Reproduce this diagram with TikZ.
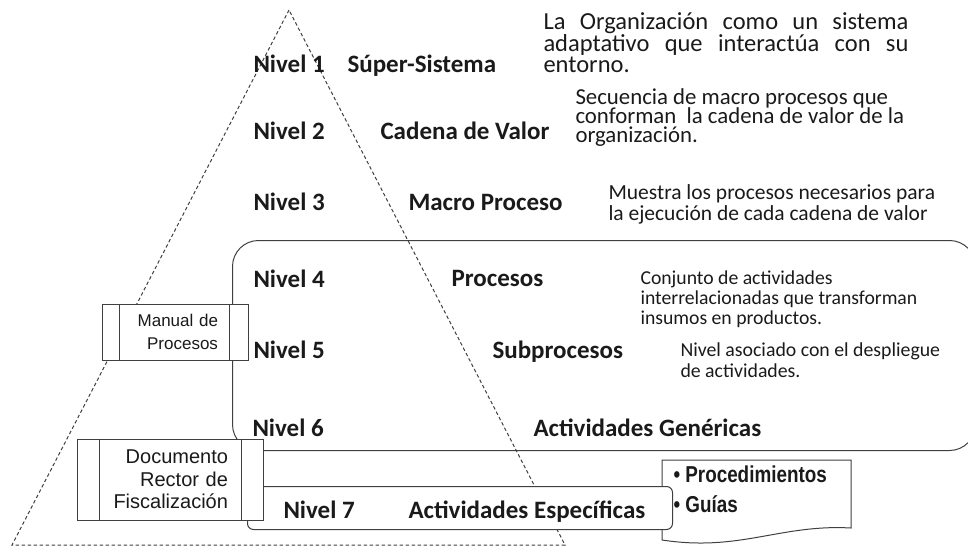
\documentclass[tikz,border=0pt]{standalone}
\usepackage{fontspec}
\setmainfont{Carlito}
\newfontfamily\arialfont{Liberation Sans}
\newfontfamily\narrowfont[FakeStretch=0.82]{Liberation Sans}
\usetikzlibrary{positioning}
\definecolor{colorLinea}{HTML}{404040}
\definecolor{colorTexto}{HTML}{1A1A1A}
\setlength{\lineskiplimit}{-50pt}

\begin{document}
\begin{tikzpicture}[x=1pt,y=-1pt,line width=1pt,every node/.append style={text=colorTexto},nivel/.style={anchor=base west,inner sep=0pt,font=\fontsize{25}{30}\selectfont\bfseries},desc/.style={anchor=north west,inner sep=0pt,align=left},proceso/.style={draw=colorLinea,fill=white,inner ysep=0pt,align=right},banda/.style={draw=colorLinea,fill=white,anchor=north west,inner sep=0pt},]
    \useasboundingbox (0,0) rectangle (968,548);
    % piramide punteada
    \coordinate (cima) at (289,10);
    \coordinate (baseI) at (12,545);
    \coordinate (baseD) at (565,545);
    \draw[colorLinea,dash pattern=on 3.5pt off 2.5pt] (cima) -- (baseI) -- (baseD) -- cycle;
    % marco niveles 4 a 6
    \node [banda, fill=none, rounded corners=26pt, minimum width=743pt, minimum height=210pt] (marco) at (232,240) {};
    % procedimientos y guias
    \draw[colorLinea,fill=white] (662,460) -- (851,460) -- (851,528) .. controls (780,524) and (740,552) .. (662,540) -- cycle;
    \node [anchor=north west, inner sep=0pt, align=left, font=\narrowfont\bfseries\fontsize{23}{30}\selectfont] (proc) at (673,465) {• Procedimientos\\• Guías};
    % nivel 7
    \node [banda, rounded corners=6pt, minimum width=425pt, minimum height=43pt] (banda7) at (247,486) {};
    % documentos
    \node [proceso, minimum width=146pt, minimum height=56pt, text width=86pt, inner xsep=30pt, font=\arialfont\fontsize{17}{23}\selectfont] (manual) at (175,332) {Manual de\\Procesos};
    \draw[colorLinea] ([xshift=18pt]manual.north west) -- ([xshift=18pt]manual.south west);
    \draw[colorLinea] ([xshift=-19pt]manual.north east) -- ([xshift=-19pt]manual.south east);
    \node [proceso, minimum width=186pt, minimum height=81pt, text width=116pt, inner xsep=35pt, font=\arialfont\fontsize{20}{22.5}\selectfont] (rector) at (170,479.5) {Documento\\Rector de\\Fiscalización};
    \draw[colorLinea] ([xshift=23pt]rector.north west) -- ([xshift=23pt]rector.south west);
    \draw[colorLinea] ([xshift=-22pt]rector.north east) -- ([xshift=-22pt]rector.south east);
    % niveles
    \foreach \n/\x/\y in {1/253/73,2/253/140,3/253/210,4/253/287,5/253/358,6/252/436,7/283/518}
        \node [nivel] (nivel\n) at (\x,\y) {Nivel \n};
    \node [nivel] (super) at (347,73) {Súper-Sistema};
    \node [nivel] (cadena) at (380,140) {Cadena de Valor};
    \node [nivel] (macro) at (408,210) {Macro Proceso};
    \node [nivel] (procesos) at (451,286) {Procesos};
    \node [nivel] (subproc) at (492,358) {Subprocesos};
    \node [nivel] (genericas) at (533,436) {Actividades Genéricas};
    \node [nivel] (especificas) at (408,518) {Actividades Específicas};
    % descripciones
    \node [desc, text width=365pt, align=justify, font=\fontsize{24.5}{21}\selectfont] (descSuper) at (543,12) {La Organización como un sistema\linebreak adaptativo que interactúa con su\linebreak entorno.};
    \node [desc, font=\fontsize{22.8}{19}\selectfont] (descCadena) at (575,88) {Secuencia de macro procesos que\\conforman~ la cadena de valor de la\\organización.};
    \node [desc, font=\fontsize{21.5}{21}\selectfont] (descMacro) at (608,184) {Muestra los procesos necesarios para\\la ejecución de cada cadena de valor};
    \node [desc, font=\fontsize{19.7}{20}\selectfont] (descProc) at (640,270) {Conjunto de actividades\\interrelacionadas que transforman\\insumos en productos.};
    \node [desc, font=\fontsize{19.8}{21}\selectfont] (descSub) at (680,342) {Nivel asociado con el despliegue\\de actividades.};
\end{tikzpicture}
\end{document}
